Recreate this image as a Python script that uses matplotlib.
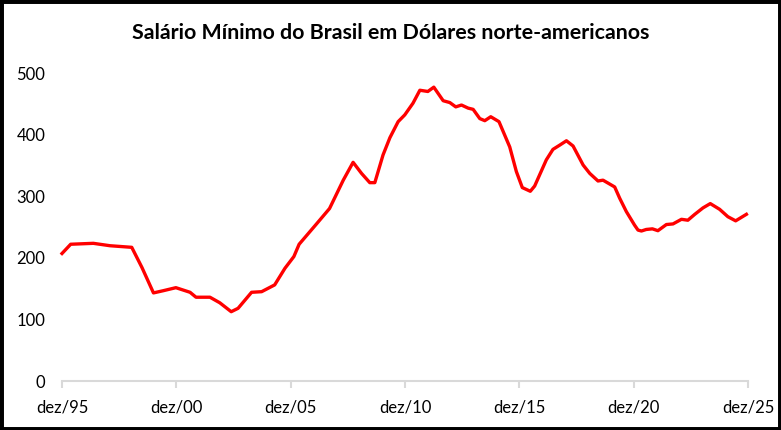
import matplotlib
matplotlib.use("Agg")
import matplotlib.pyplot as plt
from matplotlib.patches import Rectangle

# anos desde dez/95 e salario minimo em US$
anos = [0.0, 0.38, 1.37, 2.1, 3.05, 3.5, 4.0, 4.43, 4.98, 5.6, 5.86, 6.47, 6.9, 7.4, 7.7,
        8.29, 8.73, 9.3, 9.75, 10.14, 10.37, 11.13, 11.7, 12.3, 12.73, 13.1, 13.46,
        13.68, 14.04, 14.34, 14.7, 14.99, 15.35, 15.65, 16.0, 16.26, 16.67, 16.96,
        17.22, 17.47, 17.76, 17.98, 18.27, 18.49, 18.75, 19.11, 19.58, 19.87, 20.13,
        20.48, 20.67, 21.18, 21.47, 21.77, 22.06, 22.35, 22.79, 23.08, 23.44, 23.66,
        24.17, 24.39, 24.68, 25.04, 25.19, 25.34, 25.55, 25.82, 26.06, 26.43, 26.72,
        27.09, 27.37, 27.67, 28.03, 28.35, 28.76, 29.12, 29.46, 29.93]
salario = [207, 222, 223.5, 219.6, 217, 184, 143, 146.6, 151.5, 144, 136, 136, 127, 112.5, 118,
           144, 145, 156, 183, 202, 222, 255, 280, 326, 355, 337, 322,
           322, 367, 395, 421, 432, 451, 472, 470, 477, 455, 452,
           445, 448, 443, 441, 426, 422.6, 429, 421, 380, 340, 314,
           308, 316.5, 359, 376, 383, 390, 381.5, 350.6, 337, 324.7, 326,
           315, 296.6, 275, 253, 245, 243.5, 246, 247, 244, 254, 255,
           262.5, 261, 270.5, 281, 288, 278.7, 266.7, 260, 270.6]

tick_pos = [0, 5, 10, 15, 20, 25, 30]
tick_labels = ["dez/95", "dez/00", "dez/05", "dez/10", "dez/15", "dez/20", "dez/25"]
y_ticks = [0, 100, 200, 300, 400, 500]

plt.rcParams['font.family'] = ['Lato', 'DejaVu Sans']

W, H = 781, 430
fig = plt.figure(figsize=(W / 100, H / 100), dpi=100)
ax = fig.add_axes([62 / W, 1 - 381 / H, (748 - 62) / W, (381 - 73) / H])

ax.plot(anos, salario, color="#ff0000", linewidth=2.4, clip_on=False,
        solid_joinstyle="round")

ax.set_xlim(0, 30)
ax.set_ylim(0, 500)
ax.set_xticks(tick_pos)
ax.set_xticklabels(tick_labels, fontsize=12)
ax.set_yticks(y_ticks)
ax.set_yticklabels([str(v) for v in y_ticks], fontsize=12)

for s in ["top", "right", "left"]:
    ax.spines[s].set_visible(False)
ax.spines["bottom"].set_color("#d9d9d9")
ax.spines["bottom"].set_linewidth(1.5)
ax.tick_params(axis="x", direction="out", length=5, width=1.5, color="#d9d9d9", pad=8)
ax.tick_params(axis="y", length=0, pad=12)

fig.text(391 / W, 1 - 33 / H, "Salário Mínimo do Brasil em Dólares norte-americanos",
         ha="center", va="center", fontsize=15.4, fontweight="bold")

fig.patches.append(Rectangle((0, 0), 1, 1, transform=fig.transFigure, fill=False,
                             edgecolor="black", linewidth=5))

fig.savefig("out.png", dpi=100)
